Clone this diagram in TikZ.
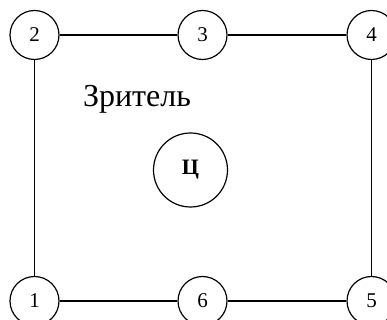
\documentclass[tikz,border=0pt]{standalone}
\usepackage{fontspec}
\setmainfont{Liberation Serif}
\usepackage{tikz}
\tikzset{
  seat/.style={draw,circle,line width=1.2pt,minimum size=49pt,inner sep=0pt,font=\fontsize{21}{21}\selectfont},
  centre/.style={draw,circle,line width=1.2pt,minimum size=74pt,inner sep=0pt,font=\fontsize{22}{22}\selectfont\bfseries},
  wall/.style={line width=1.2pt},
}
\begin{document}
\begin{tikzpicture}[x=1pt,y=1pt]
  \useasboundingbox (0,0) rectangle (387,320);
  % seats round the room
  \node[seat] (s1) at (34.5,19) {1};
  \node[seat] (s2) at (34.5,285) {2};
  \node[seat] (s3) at (202.5,285) {3};
  \node[seat] (s4) at (371.5,285) {4};
  \node[seat] (s5) at (371.5,19) {5};
  \node[seat] (s6) at (202.5,19) {6};
  % walls
  \draw[wall] (s2) -- (s3);
  \draw[wall] (s3) -- (s4);
  \draw[wall] (s4) -- (s5);
  \draw[wall] (s5) -- (s6);
  \draw[wall] (s6) -- (s1);
  \draw[wall] (s1) -- (s2);
  % centre and label
  \node[centre] (c) at (190.5,150) {Ц};
  \node[font=\fontsize{32}{32}\selectfont] (viewer) at (137,221) {Зритель};
\end{tikzpicture}
\end{document}
